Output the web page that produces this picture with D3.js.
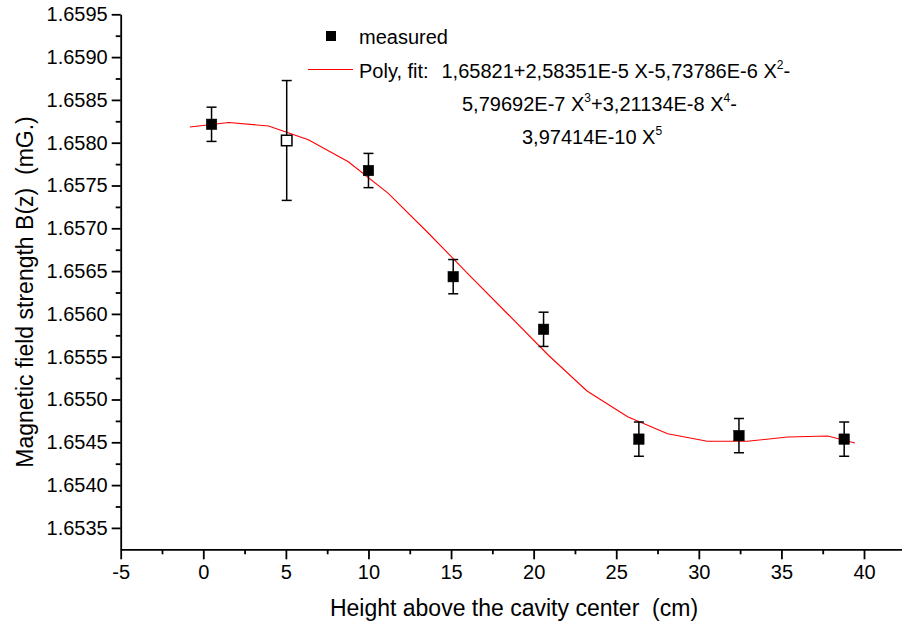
<!DOCTYPE html>
<html>
<head>
<meta charset="utf-8">
<script src="https://cdn.jsdelivr.net/npm/d3@7"></script>
<style>
  body { margin: 0; background: #fff; }
  svg { display: block; font-family: "Liberation Sans", Arial, sans-serif; }
  svg text { white-space: pre; }
</style>
</head>
<body>
<svg width="902" height="627"></svg>
<script>
// measured points (height in cm, field in mG.), error bars, open marker flag
const heights = [0.5, 5.05, 10, 15.13, 20.6, 26.37, 32.43, 38.8];
const fields = [1.658215, 1.658026, 1.657675, 1.656435, 1.65582, 1.654537, 1.654578, 1.654537];
const errors = [0.0002, 0.0007, 0.0002, 0.0002, 0.0002, 0.0002, 0.0002, 0.0002];
const hollow = [false, true, false, false, false, false, false, false];

// vertices of the polynomial fit line as drawn
const fitX = [-0.81, 1.54, 3.95, 6.36, 8.78, 11.2, 13.62, 16.04, 18.46, 20.88, 23.23, 25.69, 28.11, 30.51, 32.93, 35.38, 37.8, 39.45];
const fitY = [1.658183, 1.658236, 1.658195, 1.658035, 1.657778, 1.657409, 1.656945, 1.656466, 1.655993, 1.65552, 1.655099, 1.654799, 1.6546, 1.654512, 1.654512, 1.654562, 1.654574, 1.654492];

// tick labels
const xTicks = [-5, 0, 5, 10, 15, 20, 25, 30, 35, 40];
const yTicks = [1.6535, 1.654, 1.6545, 1.655, 1.6555, 1.656, 1.6565, 1.657, 1.6575, 1.658, 1.6585, 1.659, 1.6595];

const svg = d3.select("svg");
const tickFont = 20;
const titleFont = 23;
const legendFont = 20;

// scales
const x = d3.scaleLinear().domain([-5, 42.3]).range([120.7, 902]);
const y = d3.scaleLinear().domain([1.65325, 1.6595]).range([549.3, 14.3]);

// minor ticks halfway between the major ones
const xMinor = xTicks.map(v => v + 2.5);
const yMinor = yTicks.map(v => v + 0.00025).filter(v => v < 1.6595);

// x axis
const gx = svg.append("g").attr("transform", `translate(0,${y.range()[0]})`);
gx.call(d3.axisBottom(x).tickValues(xTicks).tickFormat(d => String(d)).tickSize(10).tickPadding(6).tickSizeOuter(0));
gx.append("g").call(d3.axisBottom(x).tickValues(xMinor).tickSize(5).tickFormat("").tickSizeOuter(0))
  .select(".domain").remove();

// y axis
const gy = svg.append("g").attr("transform", `translate(${x.range()[0]},0)`);
gy.call(d3.axisLeft(y).tickValues(yTicks).tickFormat(d3.format(".4f")).tickSize(9).tickPadding(4).tickSizeOuter(0));
gy.append("g").call(d3.axisLeft(y).tickValues(yMinor).tickSize(5).tickFormat("").tickSizeOuter(0))
  .select(".domain").remove();

svg.selectAll(".domain, .tick line").attr("stroke", "#000").attr("stroke-width", 1.8);
svg.selectAll(".tick text").attr("fill", "#000")
  .style("font-size", tickFont + "px")
  .style("font-family", "Liberation Sans, Arial, sans-serif");

// axis titles
svg.append("text")
  .attr("x", 514).attr("y", 616)
  .attr("text-anchor", "middle")
  .style("font-size", titleFont + "px")
  .text("Height above the cavity center  (cm)");

svg.append("text")
  .attr("transform", "translate(33,292) rotate(-90)")
  .attr("text-anchor", "middle")
  .style("font-size", titleFont + "px")
  .text("Magnetic field strength B(z)  (mG.)");

// fit line
const line = d3.line().x(d => x(d[0])).y(d => y(d[1]));
svg.append("path")
  .datum(fitX.map((v, i) => [v, fitY[i]]))
  .attr("d", line)
  .attr("fill", "none")
  .attr("stroke", "#ff0000")
  .attr("stroke-width", 1.1);

// error bars
const pts = heights.map((h, i) => ({ h: h, b: fields[i], e: errors[i], open: hollow[i] }));
const cap = 5;
const eb = svg.append("g").attr("stroke", "#000").attr("stroke-width", 1.5);
eb.selectAll(".ev").data(pts).enter().append("line")
  .attr("x1", d => x(d.h)).attr("x2", d => x(d.h))
  .attr("y1", d => y(d.b + d.e)).attr("y2", d => y(d.b - d.e));
eb.selectAll(".et").data(pts).enter().append("line")
  .attr("x1", d => x(d.h) - cap).attr("x2", d => x(d.h) + cap)
  .attr("y1", d => y(d.b + d.e)).attr("y2", d => y(d.b + d.e));
eb.selectAll(".ebt").data(pts).enter().append("line")
  .attr("x1", d => x(d.h) - cap).attr("x2", d => x(d.h) + cap)
  .attr("y1", d => y(d.b - d.e)).attr("y2", d => y(d.b - d.e));

// markers
const ms = 10.5;
svg.selectAll(".pt").data(pts).enter().append("rect")
  .attr("x", d => x(d.h) - ms / 2).attr("y", d => y(d.b) - ms / 2)
  .attr("width", ms).attr("height", ms)
  .attr("fill", d => d.open ? "#fff" : "#000")
  .attr("stroke", "#000")
  .attr("stroke-width", d => d.open ? 1.5 : 0.5);

// legend
svg.append("rect").attr("x", 326).attr("y", 31).attr("width", 10).attr("height", 10).attr("fill", "#000");
svg.append("text").attr("x", 359).attr("y", 44).style("font-size", legendFont + "px").text("measured");
svg.append("line").attr("x1", 308).attr("x2", 353).attr("y1", 69.5).attr("y2", 69.5)
  .attr("stroke", "#ff0000").attr("stroke-width", 1.1);
svg.append("text").attr("x", 359).attr("y", 78).style("font-size", legendFont + "px").text("Poly, fit:  ");

// equation lines with superscripts
const eqLines = [
  { x: 441.5, y: 78, parts: [["1,65821+2,58351E-5 X-5,73786E-6 X", ""], ["2", "sup"], ["-", ""]] },
  { x: 462, y: 111, parts: [["5,79692E-7 X", ""], ["3", "sup"], ["+3,21134E-8 X", ""], ["4", "sup"], ["-", ""]] },
  { x: 522, y: 144, parts: [["3,97414E-10 X", ""], ["5", "sup"]] }
];
eqLines.forEach(l => {
  const t = svg.append("text").attr("x", l.x).attr("y", l.y).style("font-size", legendFont + "px");
  l.parts.forEach((p, i) => {
    const s = t.append("tspan").text(p[0]);
    if (p[1] === "sup") {
      s.attr("dy", -9).style("font-size", "12px");
    } else if (i > 0) {
      s.attr("dy", 9);
    }
  });
});
</script>
</body>
</html>
